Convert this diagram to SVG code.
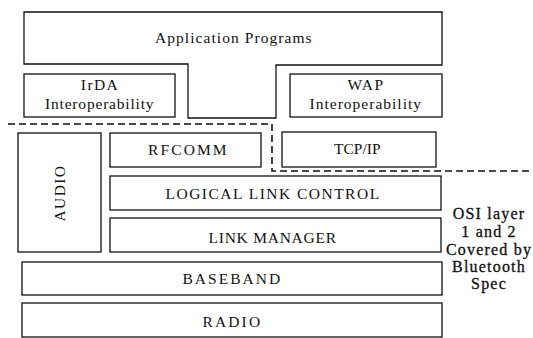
<svg xmlns="http://www.w3.org/2000/svg" width="533" height="338" viewBox="0 0 533 338">
<style>
.box{fill:none;stroke:#111;stroke-width:1.3}
.t{font-family:"Liberation Serif","Times New Roman",serif;font-size:15.5px;fill:#111;text-anchor:middle;letter-spacing:1.4px}
.s{font-family:"Liberation Serif","Times New Roman",serif;font-size:16px;fill:#111;stroke:#111;stroke-width:0.3;text-anchor:middle;letter-spacing:1.2px}
.dash{fill:none;stroke:#111;stroke-width:1.6;stroke-dasharray:7 4}
</style>
<rect width="533" height="338" fill="#fff"/>
<g id="app">
<path class="box" d="M24,12 H442 V65 H276 V118 H188 V64 H24 Z"/>
<text class="t" x="234" y="43" textLength="158" lengthAdjust="spacing">Application Programs</text>
</g>
<g id="irda">
<rect class="box" x="24" y="74" width="151" height="43"/>
<text class="t" x="100" y="90">IrDA</text>
<text class="t" x="100" y="109" textLength="110" lengthAdjust="spacing">Interoperability</text>
</g>
<g id="wap">
<rect class="box" x="290" y="74" width="152" height="43"/>
<text class="t" x="366" y="90">WAP</text>
<text class="t" x="366" y="109" textLength="113" lengthAdjust="spacing">Interoperability</text>
</g>
<g id="audio">
<rect class="box" x="18" y="133" width="83" height="119"/>
<text class="t" transform="translate(65,193) rotate(-90)" x="0" y="0">AUDIO</text>
</g>
<g id="rfcomm">
<rect class="box" x="110" y="133" width="151" height="34"/>
<text class="t" x="188" y="155" textLength="80" lengthAdjust="spacing">RFCOMM</text>
</g>
<g id="tcpip">
<rect class="box" x="282" y="132" width="154" height="35"/>
<text class="t" x="358" y="154" textLength="48" lengthAdjust="spacing">TCP/IP</text>
</g>
<g id="llc">
<rect class="box" x="110" y="176" width="331" height="34"/>
<text class="t" x="273" y="199" textLength="215" lengthAdjust="spacing">LOGICAL LINK CONTROL</text>
</g>
<g id="lm">
<rect class="box" x="110" y="218" width="331" height="34"/>
<text class="t" x="273" y="243" textLength="129" lengthAdjust="spacing">LINK MANAGER</text>
</g>
<g id="baseband">
<rect class="box" x="22" y="262" width="420" height="33"/>
<text class="t" x="232" y="284" textLength="99" lengthAdjust="spacing">BASEBAND</text>
</g>
<g id="radio">
<rect class="box" x="22" y="303" width="420" height="34"/>
<text class="t" x="232" y="327" textLength="59" lengthAdjust="spacing">RADIO</text>
</g>
<g id="connectors">
<path class="dash" d="M8,124 H272 V171 H533"/>
</g>
<g id="osi">
<text class="s" x="489" y="219">OSI layer</text>
<text class="s" x="489" y="237">1 and 2</text>
<text class="s" x="489" y="255">Covered by</text>
<text class="s" x="489" y="272">Bluetooth</text>
<text class="s" x="489" y="289">Spec</text>
</g>
</svg>
